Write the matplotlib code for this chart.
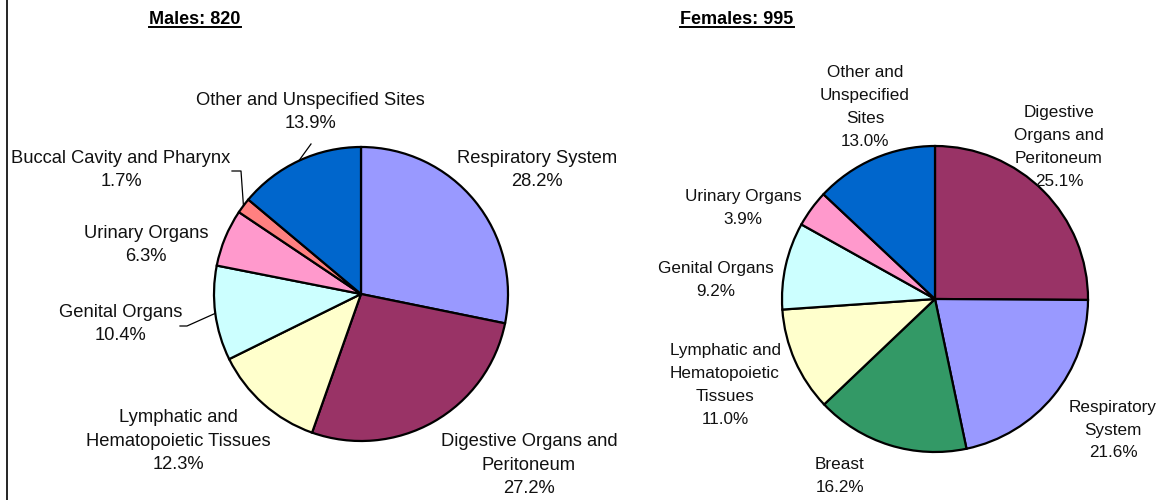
import matplotlib
matplotlib.use("Agg")
import matplotlib.pyplot as plt
import numpy as np

plt.rcParams['font.family'] = ['Liberation Sans', 'DejaVu Sans']

# ---- data ----
male_title = "Males: 820"
male_labels = ["Respiratory System", "Digestive Organs and\nPeritoneum",
               "Lymphatic and\nHematopoietic Tissues", "Genital Organs",
               "Urinary Organs", "Buccal Cavity and Pharynx",
               "Other and Unspecified Sites"]
male_values = [28.2, 27.2, 12.3, 10.4, 6.3, 1.7, 13.9]
male_colors = ["#9999FF", "#993366", "#FFFFCC", "#CCFFFF", "#FF99CC", "#FF8080", "#0066CC"]

female_title = "Females: 995"
female_labels = ["Digestive\nOrgans and\nPeritoneum", "Respiratory\nSystem", "Breast",
                 "Lymphatic and\nHematopoietic\nTissues", "Genital Organs",
                 "Urinary Organs", "Other and\nUnspecified\nSites"]
female_values = [25.1, 21.6, 16.2, 11.0, 9.2, 3.9, 13.0]
female_colors = ["#993366", "#9999FF", "#339966", "#FFFFCC", "#CCFFFF", "#FF99CC", "#0066CC"]

# ---- layout (pixel-like coordinates, y up) ----
W, H = 1165, 500
fig = plt.figure(figsize=(W / 100, H / 100), dpi=100)
ax = fig.add_axes([0, 0, 1, 1])

male_center, male_r = (361, 206), 147
female_center, female_r = (935, 201), 153

male_label_pos = [(537, 330), (529, 35), (178, 59), (121, 176), (146, 255), (121, 330), (310, 388)]
female_label_pos = [(1059, 353), (1113, 70), (840, 24), (725, 115), (716, 220), (743, 292), (865, 393)]
# leader lines: index -> label-side anchor
male_leaders = {5: [(232, 329), (241, 329)], 6: [(311, 356)], 3: [(180, 174), (187, 174)]}
female_leaders = {}


def draw_pie(values, colors, labels, center, r, label_pos, leaders, fs, ls):
    wedges, _ = ax.pie(values, colors=colors, startangle=90, counterclock=False,
                       center=center, radius=r,
                       wedgeprops=dict(edgecolor='black', linewidth=1.6))
    for i, (lab, v) in enumerate(zip(labels, values)):
        x, y = label_pos[i]
        ax.text(x, y, f"{lab}\n{v:.1f}%", ha='center', va='center', fontsize=fs,
                linespacing=ls, color='#111111')
        if i in leaders:
            w = wedges[i]
            mid = np.deg2rad((w.theta1 + w.theta2) / 2)
            px = center[0] + r * np.cos(mid)
            py = center[1] + r * np.sin(mid)
            pts = leaders[i] + [(px, py)]
            ax.plot([p[0] for p in pts], [p[1] for p in pts], color='black', lw=0.9)


draw_pie(male_values, male_colors, male_labels, male_center, male_r, male_label_pos, male_leaders, 13.2, 1.5)
draw_pie(female_values, female_colors, female_labels, female_center, female_r, female_label_pos, female_leaders, 12.3, 1.66)

ax.set_xlim(0, W)
ax.set_ylim(0, H)
ax.set_aspect('auto')
ax.axis('off')

titles = [(male_title, 195), (female_title, 737)]
title_objs = []
for t, x in titles:
    title_objs.append(ax.text(x, 480, t, ha='center', va='center', fontsize=13,
                              fontweight='bold', color='black'))

# left frame line
ax.plot([7, 7], [0, H], color='black', lw=1.2, clip_on=False)

# underline titles
fig.canvas.draw()
renderer = fig.canvas.get_renderer()
inv = ax.transData.inverted()
for t in title_objs:
    bb = t.get_window_extent(renderer)
    (x0, y0), (x1, y1) = inv.transform([(bb.x0, bb.y0), (bb.x1, bb.y1)])
    ax.plot([x0, x1], [y0 + 1.5, y0 + 1.5], color='black', lw=1.4)

fig.savefig("out.png", dpi=100)
